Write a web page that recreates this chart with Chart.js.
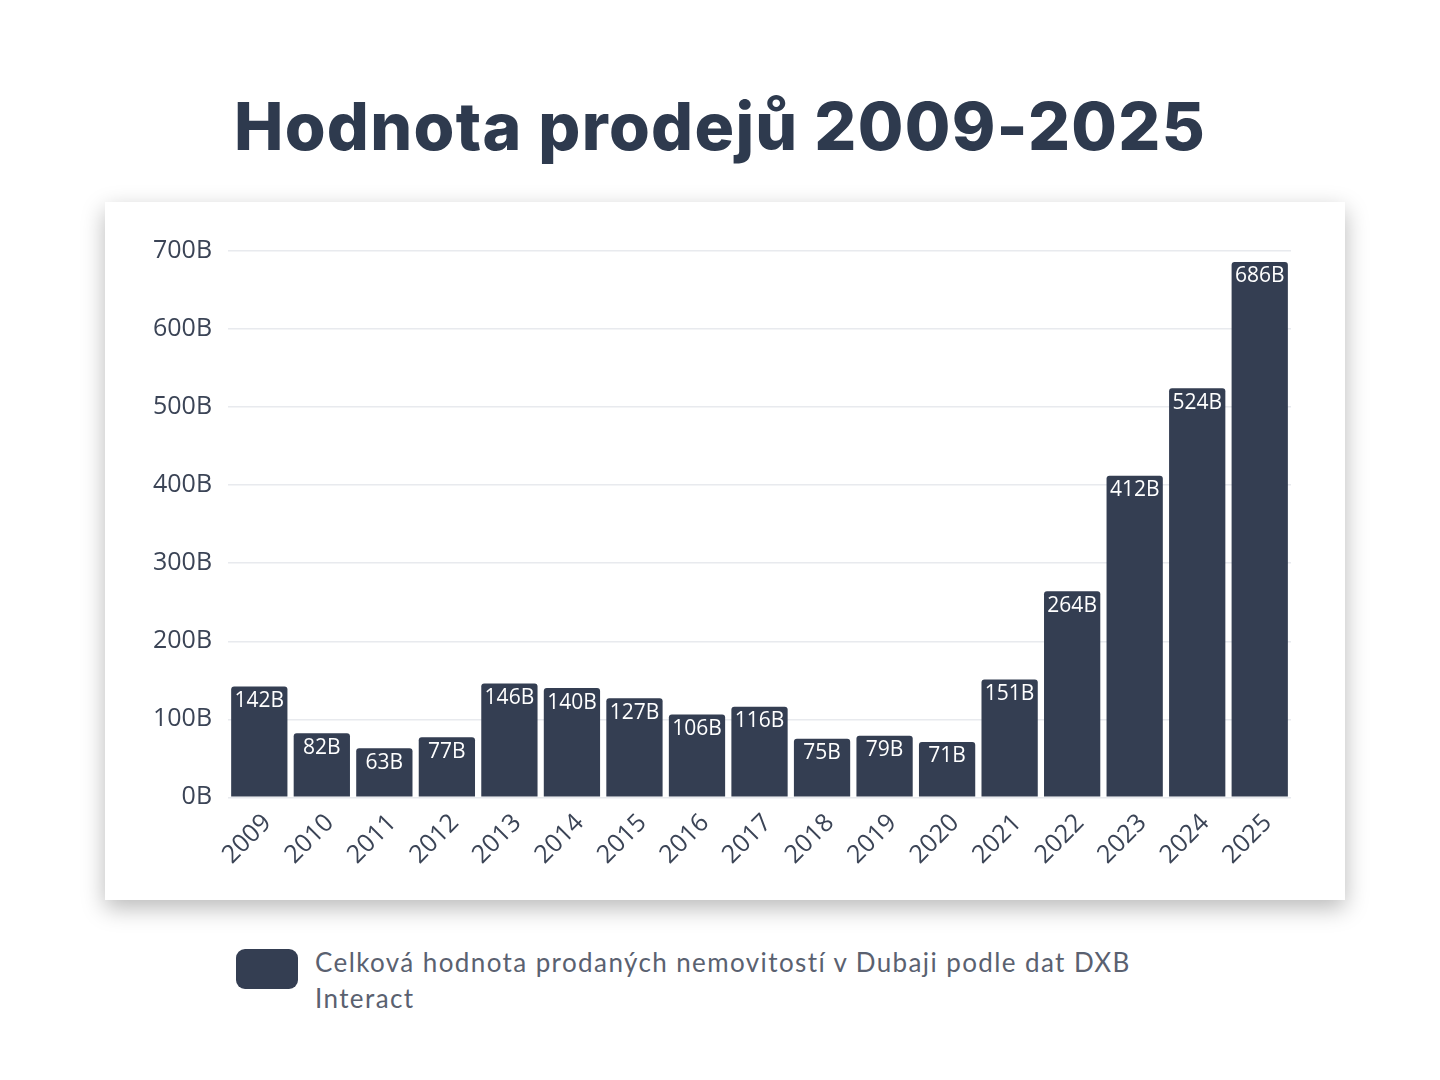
<!DOCTYPE html>
<html>
<head>
<meta charset="utf-8">
<script src="https://cdn.jsdelivr.net/npm/chart.js@4"></script>
<style>
  html, body { margin: 0; padding: 0; background: #fff; }
  body { width: 1440px; height: 1080px; position: relative; overflow: hidden; font-family: Lato, sans-serif; }
  h1 {
    position: absolute; left: 0; top: 86px; width: 1440px; margin: 0;
    text-align: center; font-family: Inter, sans-serif; font-weight: 800;
    font-size: 66px; color: #2e3a4e; letter-spacing: 1.3px;
  }
  #card {
    position: absolute; left: 105px; top: 202px; width: 1240px; height: 698px;
    background: #fff; box-shadow: 0 8px 22px rgba(0,0,0,0.28);
  }
  #legend {
    position: absolute; left: 236px; top: 944px; width: 940px;
    display: flex; align-items: flex-start;
  }
  #legend .box { width: 62px; height: 40px; border-radius: 9px; background: #343e52; flex: none; margin-top: 5px; }
  #legend .txt { margin-left: 17px; width: 850px; font-family: Lato, sans-serif; font-size: 26px;
                 letter-spacing: 1.4px; line-height: 36px; color: #5a6170; }
</style>
</head>
<body>
<h1>Hodnota prodejů 2009-2025</h1>
<div id="card"><canvas id="salesChart" width="1240" height="698"></canvas></div>
<div id="legend"></div>
<script>
const years = ['2009', '2010', '2011', '2012', '2013', '2014', '2015', '2016', '2017',
               '2018', '2019', '2020', '2021', '2022', '2023', '2024', '2025'];
const salesValue = [142, 82, 63, 77, 146, 140, 127, 106, 116, 75, 79, 71, 151, 264, 412, 524, 686];
const seriesLabel = 'Celková hodnota prodaných nemovitostí v Dubaji podle dat DXB Interact';

// white value labels inside the top of each bar
const barLabels = {
    id: 'barLabels',
    afterDatasetsDraw(chart) {
        const ctx = chart.ctx;
        const meta = chart.getDatasetMeta(0);
        ctx.save();
        ctx.fillStyle = '#ffffff';
        ctx.font = '21px "Open Sans", sans-serif';
        ctx.textAlign = 'center';
        ctx.textBaseline = 'top';
        meta.data.forEach((bar, i) => {
            ctx.fillText(salesValue[i] + 'B', bar.x, bar.y + 4);
        });
        ctx.restore();
    }
};

const ctx = document.getElementById('salesChart').getContext('2d');
const salesChart = new Chart(ctx, {
    type: 'bar',
    data: {
        labels: years,
        datasets: [{
            label: seriesLabel,
            data: salesValue,
            backgroundColor: '#343e52',
            borderRadius: 3,
            barPercentage: 0.9,
            categoryPercentage: 1.0
        }]
    },
    options: {
        responsive: false,
        animation: false,
        layout: { padding: { left: 32, right: 54, top: 49, bottom: 19 } },
        scales: {
            x: {
                grid: { display: false, drawTicks: false },
                border: { display: false },
                ticks: {
                    color: '#3b4456',
                    font: { family: '"Open Sans", sans-serif', size: 25 },
                    maxRotation: 45, minRotation: 45,
                    padding: 11,
                    labelOffset: 8
                }
            },
            y: {
                min: 0, max: 700,
                grid: { color: '#e8eaee', lineWidth: 1.5, drawTicks: false },
                border: { display: false },
                ticks: {
                    stepSize: 100,
                    color: '#3b4456',
                    font: { family: '"Open Sans", sans-serif', size: 25 },
                    padding: 16,
                    callback: (v) => v + 'B'
                }
            }
        },
        plugins: {
            legend: { display: false },
            tooltip: { enabled: false }
        }
    },
    plugins: [barLabels]
});

// html legend so the long label can wrap
document.getElementById('legend').innerHTML =
    '<div class="box"></div><div class="txt">' + salesChart.data.datasets[0].label + '</div>';
</script>
</body>
</html>
